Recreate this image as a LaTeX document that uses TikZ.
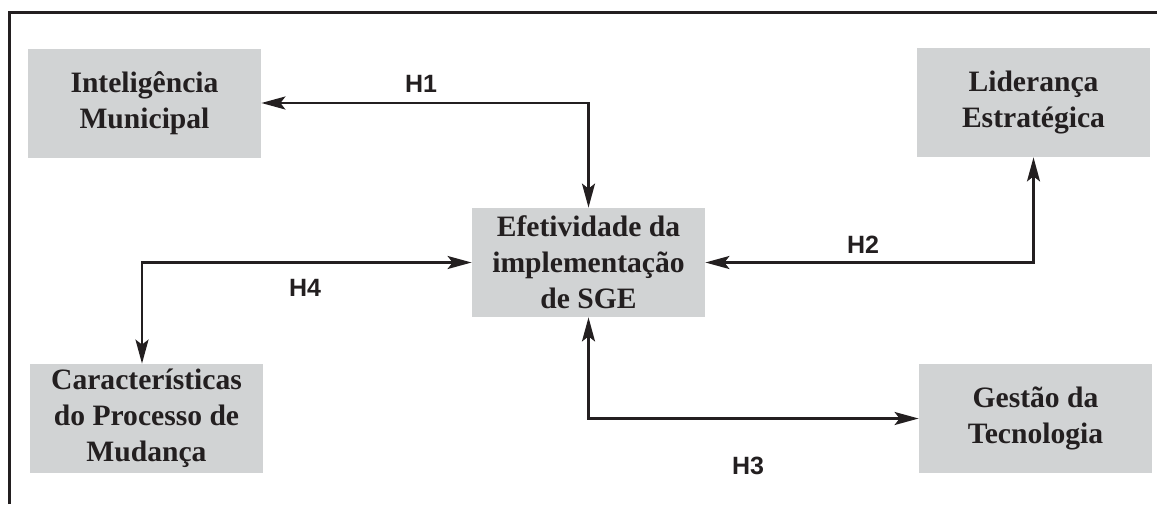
\documentclass[tikz,border=0pt]{standalone}
\usepackage{fontspec}
\setmainfont{Liberation Serif}
\newfontfamily\hfont{Liberation Sans}
\usetikzlibrary{arrows.meta}
\definecolor{boxgray}{RGB}{209,211,212}
\definecolor{ink}{RGB}{35,31,32}
\tikzset{
	box/.style={fill=boxgray, minimum width=116.5pt, minimum height=54.5pt, inner sep=0pt,
		align=center, text=ink, font=\fontsize{14.8}{18}\selectfont\bfseries},
	hyp/.style={text=ink, font=\hfont\fontsize{12.5}{14}\selectfont\bfseries},
	link/.style={draw=ink, line width=1.15pt, {Stealth[length=12pt,width=6.5pt,inset=2.5pt]}-{Stealth[length=12pt,width=6.5pt,inset=2.5pt]}}
}
\begin{document}
\begin{tikzpicture}[x=0.5pt, y=-0.5pt]
		\useasboundingbox (0, 0) rectangle (1157, 504);

		% moldura
		\draw[ink, line width=1.5pt] (9, 504) -- (9, 12) -- (1157, 12);

		% construtos
		\node[box] (im) at (144.5, 103) {Inteligência\\Municipal};
		\node[box] (ef) at (588.5, 262.5) {Efetividade da\\implementação\\de SGE};
		\node[box] (le) at (1033.5, 102.5) {Liderança\\Estratégica};
		\node[box] (cp) at (146.5, 418.5) {Características\\do Processo de\\Mudança};
		\node[box] (gt) at (1035.5, 418.5) {Gestão da\\Tecnologia};

		% hipoteses
		\draw[link] (im.east) -| (ef.north);
		\draw[link] (ef.east) -| (le.south);
		\draw[link] (ef.south) |- (gt.west);
		\draw[link] (ef.west) -| ([xshift=-2.25pt]cp.north);

		\node[hyp] (h1) at (421, 84) {H1};
		\node[hyp] (h2) at (863, 245) {H2};
		\node[hyp] (h3) at (748, 466) {H3};
		\node[hyp] (h4) at (305, 288) {H4};
	\end{tikzpicture}
\end{document}
